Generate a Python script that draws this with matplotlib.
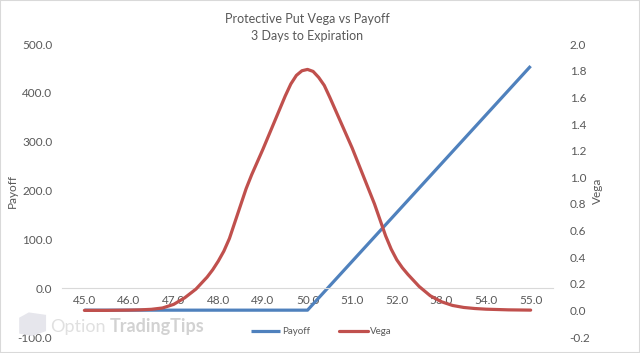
import matplotlib.pyplot as plt
from matplotlib.patches import Rectangle, Polygon

# underlying price categories (axis labels)
strikes = [45.0, 46.0, 47.0, 48.0, 49.0, 50.0, 51.0, 52.0, 53.0, 54.0, 55.0]
payoff = [-45, -45, -45, -45, -45, -45, 55, 155, 255, 355, 455]

# vega
vega_x = [45.0, 45.5, 46.0, 46.25, 46.5, 46.75, 47.0, 47.25, 47.5, 47.75,
          47.875, 48.0, 48.125, 48.25, 48.375, 48.5, 48.625, 48.75, 48.875, 49.0,
          49.25, 49.5, 49.625, 49.75, 49.875, 50.0, 50.125, 50.25, 50.375, 50.5,
          50.75, 51.0, 51.25, 51.5, 51.625, 51.75, 51.875, 52.0, 52.125, 52.25,
          52.5, 52.75, 53.0, 53.25, 53.5, 53.75, 54.0, 54.5, 55.0]
vega = [0.0, 0.0, 0.002, 0.004, 0.008, 0.018, 0.045, 0.095, 0.16, 0.25,
        0.305, 0.37, 0.445, 0.54, 0.665, 0.79, 0.915, 1.02, 1.115, 1.21,
        1.41, 1.61, 1.70, 1.765, 1.80, 1.81, 1.795, 1.75, 1.69, 1.60,
        1.41, 1.22, 1.01, 0.80, 0.68, 0.56, 0.46, 0.38, 0.32, 0.27,
        0.18, 0.11, 0.065, 0.037, 0.022, 0.014, 0.009, 0.004, 0.002]

blue = '#4F81BD'
red = '#C0504D'
txt = '#595959'

plt.rcParams['font.family'] = ['Lato', 'DejaVu Sans']

fig = plt.figure(figsize=(6.4, 3.53), dpi=100)
ax = fig.add_axes([0.097, 0.0453, 0.767, 0.8297])
ax2 = ax.twinx()

ax.plot(strikes, payoff, color=blue, lw=2.3, label='Payoff', solid_capstyle='butt')
ax2.plot(vega_x, vega, color=red, lw=2.3, label='Vega',
         solid_capstyle='round', solid_joinstyle='round')

ax.set_xlim(44.5, 55.5)
ax.set_ylim(-100, 500)
ax2.set_ylim(-0.2, 2.0)
ax.set_xticks(strikes)
ax.set_xticklabels(['%.1f' % s for s in strikes])
left_ticks = [-100, 0, 100, 200, 300, 400, 500]
right_ticks = [-0.2, 0, 0.2, 0.4, 0.6, 0.8, 1.0, 1.2, 1.4, 1.6, 1.8, 2.0]
ax.set_yticks(left_ticks)
ax.set_yticklabels(['%.1f' % v for v in left_ticks])
ax2.set_yticks(right_ticks)
ax2.set_yticklabels(['%.1f' % v for v in right_ticks])

for a in (ax, ax2):
    for s in ['top', 'left', 'right', 'bottom']:
        a.spines[s].set_visible(False)
ax.spines['bottom'].set_visible(True)
ax.spines['bottom'].set_position(('data', 0))
ax.spines['bottom'].set_color('#D9D9D9')

ax.tick_params(axis='x', length=0, pad=5, labelsize=8.5, labelcolor=txt)
ax.tick_params(axis='y', length=0, pad=7, labelsize=8.5, labelcolor=txt)
ax2.tick_params(axis='y', length=0, pad=12, labelsize=8.5, labelcolor=txt)

ax.set_ylabel('Payoff', fontsize=8.5, color=txt, va='center')
ax.yaxis.set_label_coords(-0.102, 0.5)
ax2.set_ylabel('Vega', fontsize=8.5, color=txt, rotation=90, va='center')
ax2.yaxis.set_label_coords(1.09, 0.5)

fig.text(0.48, 0.921, 'Protective Put Vega vs Payoff\n3 Days to Expiration',
         ha='center', va='center', fontsize=9, color=txt, linespacing=1.5)

# watermark
fig.patches.append(Polygon([(0.030, 0.055), (0.030, 0.100), (0.045, 0.115),
                            (0.072, 0.108), (0.072, 0.062), (0.050, 0.048)],
                           closed=True, transform=fig.transFigure,
                           facecolor='#E6E6EC', edgecolor='none'))
fig.text(0.078, 0.074, 'Option', fontsize=13, color='#E0E0E0', va='center')
fig.text(0.172, 0.074, 'TradingTips', fontsize=13, color='#D2D2D2', va='center',
         fontweight='bold')

h1, l1 = ax.get_legend_handles_labels()
h2, l2 = ax2.get_legend_handles_labels()
fig.legend(h1 + h2, l1 + l2, loc='center', bbox_to_anchor=(0.502, 0.06), ncol=2,
           frameon=False, fontsize=7, labelcolor=txt, handlelength=3.0,
           handletextpad=0.2, columnspacing=3)

fig.patches.append(Rectangle((0, 0), 1, 1, transform=fig.transFigure, fill=False,
                             edgecolor='#D9D9D9', lw=1.5))

fig.savefig('out.png', dpi=100)
